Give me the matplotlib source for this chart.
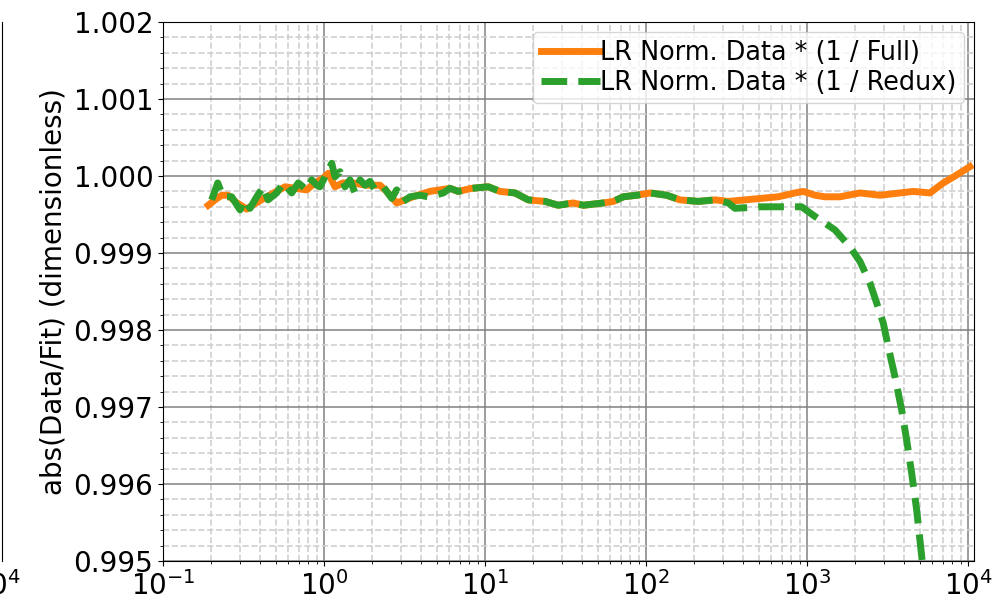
import matplotlib
matplotlib.use("Agg")
import matplotlib.pyplot as plt
from matplotlib.ticker import AutoMinorLocator, FormatStrFormatter

# ---- data ----
full_x = [0.191, 0.2104, 0.2315, 0.2535, 0.284, 0.331, 0.378, 0.441, 0.496, 0.573,
          0.661, 0.781, 0.879, 0.986, 1.064, 1.170, 1.312, 1.513, 1.823, 2.228,
          2.450, 2.828, 3.185, 3.57, 4.55, 6.06, 6.82, 8.27, 10.48, 12.39,
          15.36, 18.57, 23.6, 28.5, 35.3, 40.8, 54.3, 62.7, 72.3, 87.5,
          105.9, 134.5, 162.7, 211.3, 268.5, 324.6, 413.0, 523.0, 663.0, 842.0,
          949.0, 1122.0, 1295.0, 1604.0, 2134.0, 2839.0, 3782.0, 4575.0, 5808.0, 7027.0,
          8511.0, 10280.0]
full_y = [0.99962, 0.99969, 0.99975, 0.99975, 0.99966, 0.99957, 0.99965, 0.99973, 0.99979, 0.99986,
          0.99984, 0.99982, 0.99991, 0.99997, 1.000035, 0.99986, 0.99991, 0.99991, 0.99988, 0.99988,
          0.99980, 0.99965, 0.99969, 0.99973, 0.99980, 0.99984, 0.99980, 0.99984, 0.99986, 0.99980,
          0.99978, 0.99969, 0.99967, 0.99962, 0.99965, 0.99962, 0.99965, 0.99967, 0.99973, 0.99975,
          0.99978, 0.99975, 0.99969, 0.99967, 0.99969, 0.99967, 0.99969, 0.99971, 0.99973, 0.99978,
          0.99980, 0.99975, 0.99973, 0.99973, 0.99978, 0.99975, 0.99978, 0.99980, 0.99978, 0.99991,
          1.000013, 1.000121]

redux_x = [0.2007, 0.2188, 0.236, 0.267, 0.301, 0.323, 0.347, 0.382, 0.420, 0.449,
           0.508, 0.559, 0.630, 0.692, 0.781, 0.839, 0.902, 0.944, 1.117, 1.170,
           1.257, 1.350, 1.450, 1.558, 1.674, 1.798, 1.931, 2.074, 2.336, 2.634,
           2.828, 3.11, 3.42, 3.95, 4.43, 4.89, 5.51, 6.06, 6.82, 8.27,
           10.48, 12.39, 15.36, 18.57, 23.6, 28.5, 35.3, 40.8, 54.3, 62.7,
           72.3, 87.5, 105.9, 134.5, 162.7, 211.3, 268.5, 324.6, 357.2, 523.4,
           632.9, 926.9, 1094.0, 1492.0, 1849.0, 2134.0, 2462.0, 2710.0, 2978.0, 3199.0,
           3522.0, 3875.0, 4161.0, 4470.0, 4802.0, 5160.0, 5500.0]
redux_y = [0.99969, 0.99991, 0.99973, 0.99973, 0.99956, 0.99969, 0.99958, 0.99973, 0.99986, 0.99969,
           0.99978, 0.99991, 0.99978, 0.99991, 0.99982, 0.99995, 0.99988, 0.99986, 1.000165, 0.99999,
           1.000056, 0.99986, 0.99995, 0.99978, 0.99995, 0.99988, 0.99993, 0.99982, 0.99986, 0.99971,
           0.99982, 0.99967, 0.99973, 0.99975, 0.99973, 0.99975, 0.99978, 0.99984, 0.99980, 0.99984,
           0.99986, 0.99980, 0.99978, 0.99969, 0.99967, 0.99962, 0.99965, 0.99962, 0.99965, 0.99967,
           0.99973, 0.99975, 0.99978, 0.99975, 0.99969, 0.99967, 0.99969, 0.99965, 0.99958, 0.99960,
           0.99960, 0.99960, 0.99949, 0.99930, 0.99908, 0.99889, 0.99861, 0.99835, 0.99809, 0.99778,
           0.99739, 0.99696, 0.99657, 0.99614, 0.99566, 0.99506, 0.9945]

labels = ["LR Norm. Data * (1 / Full)", "LR Norm. Data * (1 / Redux)"]
FS = 20

fig = plt.figure(figsize=(9.98, 6.07), dpi=100)
W, H = 998.0, 607.0
L, R, T, B = 163, 974, 22, 561
ax = fig.add_axes([L / W, 1 - B / H, (R - L) / W, (B - T) / H])

ax.plot(full_x, full_y, color="#ff7f0e", lw=5, ls="-", label=labels[0], zorder=3)
ax.plot(redux_x, redux_y, color="#2ca02c", lw=5, ls="--", label=labels[1], zorder=4)

ax.set_xscale("log")
ax.set_xlim(0.1, 1.09e4)
ax.set_ylim(0.995, 1.002)
ax.yaxis.set_minor_locator(AutoMinorLocator(5))
ax.yaxis.set_major_formatter(FormatStrFormatter("%.3f"))
ax.grid(which="major", color="#7f7f7f", lw=1.2, ls="-", alpha=0.9)
ax.grid(which="minor", color="#cfcfcf", lw=1.2, ls="--")
ax.set_axisbelow(True)
ax.tick_params(labelsize=FS)
ax.set_ylabel("abs(Data/Fit) (dimensionless)", fontsize=FS)
ax.legend(loc="upper right", fontsize=FS * 0.92, handlelength=2.3,
          borderpad=0.3, labelspacing=0.15, handletextpad=0.0,
          borderaxespad=0.4)

# neighbouring (cropped) panel on the far left
ax2 = fig.add_axes([(2 - (R - L)) / W, 1 - B / H, (R - L) / W, (B - T) / H])
ax2.set_xscale("log")
ax2.set_xlim(0.1, 1.09e4)
ax2.set_ylim(0.995, 1.002)
ax2.tick_params(labelsize=FS)
for s in ["top", "left", "bottom"]:
    ax2.spines[s].set_visible(False)
ax2.set_yticks([])
ax2.patch.set_visible(False)

fig.savefig("out.png", dpi=100)
